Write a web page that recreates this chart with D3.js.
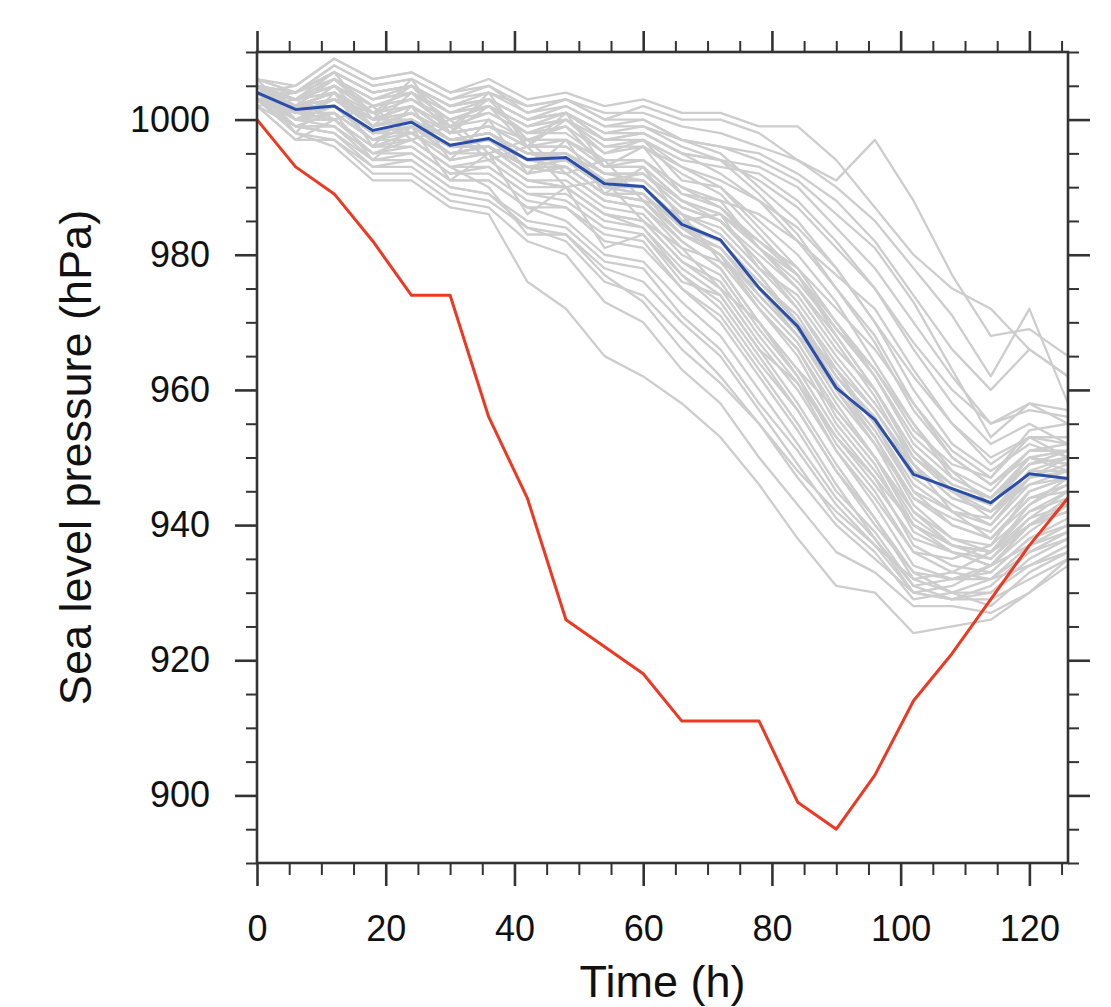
<!DOCTYPE html>
<html>
<head>
<meta charset="utf-8">
<script src="https://cdn.jsdelivr.net/npm/d3@7"></script>
<style>
  body { margin: 0; background: #fff; }
  text { font-family: "Liberation Sans", Arial, Helvetica, sans-serif; fill: #111; }
</style>
</head>
<body>
<div id="chart"></div>
<script>
// forecast hours, every 6 h
var hours = [0, 6, 12, 18, 24, 30, 36, 42, 48, 54, 60, 66, 72, 78, 84, 90, 96, 102, 108, 114, 120, 126];

// observed (best track) minimum pressure
var observed = [1000, 993, 989, 982, 974, 974, 956, 944, 926, 922, 918, 911, 911, 911, 899, 895, 903, 914, 921, 929, 937, 944];

// ensemble mean
var ensMean = [1004, 1001.5, 1002, 998.4, 999.6, 996.2, 997.2, 994.1, 994.4, 990.5, 990.1, 984.5, 982.2, 975.1, 969.4, 960.3, 955.6, 947.5, 945.4, 943.3, 947.6, 946.9];

// ensemble members
var members = [
  [1005,1004,1008,1005,1006,1003,1005,1001,1003,1000,1002,1000,1000,998,994,991,997,988,977,968,969,965],
  [1004,1005,1009,1006,1007,1004,1006,1003,1004,1002,1003,1001,1001,999,999,994,987,980,975,972,966,962],
  [1005,1003,1007,1004,1005,1002,1004,1002,1003,1001,1001,999,998,996,994,990,985,978,971,962,972,958],
  [1004,1004,1006,1003,1005,1001,1003,1000,1002,999,1000,997,996,995,992,988,982,974,966,960,966,962],
  [1003,1002,1006,1002,1004,1000,1002,999,1001,997,998,995,994,993,990,984,978,970,962,955,958,955],
  [1005,1003,1005,1002,1003,1000,1002,998,1000,996,997,994,993,992,988,982,975,966,958,952,955,952],
  [1004,1002,1004,1001,1003,999,1001,998,999,995,996,993,991,988,984,978,970,962,955,950,953,950],
  [1006,1004,1007,1004,1005,1002,1003,1000,1001,998,998,995,992,988,982,975,968,958,950,946,950,948],
  [1004,1001,1003,999,1000,997,998,995,995,991,991,986,983,977,970,962,955,946,942,940,946,947],
  [1003,1002,1002,998,1000,996,997,994,994,990,990,984,981,974,968,959,952,944,940,938,944,946],
  [1005,1003,1004,1000,1001,998,999,996,996,992,992,987,985,979,973,965,958,950,946,944,949,950],
  [1004,1000,1001,997,999,995,996,993,993,989,989,983,980,972,965,955,948,940,936,934,940,944],
  [1003,1001,1002,998,999,996,996,993,992,988,987,982,978,970,962,953,946,938,936,935,941,943],
  [1005,1002,1003,999,1001,997,998,995,995,992,991,986,984,978,972,964,957,948,945,943,950,951],
  [1004,1001,1000,996,998,994,995,991,991,987,986,980,977,969,962,952,945,936,935,937,942,944],
  [1003,1000,1002,998,998,995,996,992,993,989,988,983,981,975,969,961,953,943,938,936,943,946],
  [1004,1002,1003,1000,1000,997,998,995,994,991,990,985,982,976,971,962,956,947,943,940,947,948],
  [1005,1003,1004,1001,1002,998,999,997,997,993,993,988,986,981,976,969,962,953,948,945,951,952],
  [1004,1001,1001,997,999,995,996,993,992,988,987,981,979,972,966,957,950,941,937,935,940,942],
  [1003,1002,1004,999,1001,997,998,994,995,991,991,986,983,977,970,961,954,945,942,941,948,950],
  [1004,1000,1002,997,999,996,996,992,993,989,989,984,982,976,970,963,957,949,944,942,946,948],
  [1005,1002,1002,998,1000,996,997,994,994,990,989,983,980,973,967,958,950,940,937,936,942,945],
  [1004,1001,1003,999,1001,997,997,994,993,989,988,982,978,970,963,954,947,937,934,933,938,941],
  [1003,1000,1001,997,998,994,995,991,990,986,985,979,975,967,960,951,944,936,933,932,936,939],
  [1004,1002,1003,999,1000,997,998,995,995,991,992,987,985,980,975,968,960,951,946,944,949,951],
  [1005,1001,1002,998,999,996,997,993,994,990,989,984,980,972,966,956,949,939,936,934,939,943],
  [1004,1003,1005,1001,1002,999,1000,997,997,994,994,989,987,982,977,970,963,954,949,947,953,953],
  [1003,1001,1002,998,1000,996,996,993,993,989,988,983,980,974,968,960,952,942,938,937,945,947],
  [1004,1000,1000,996,997,993,994,990,990,986,985,979,976,968,961,951,943,934,932,932,937,940],
  [1005,1002,1004,1000,1001,997,998,995,994,990,990,985,982,975,969,960,953,944,941,939,945,947],
  [1003,999,999,995,996,992,993,989,989,985,984,978,974,966,958,949,941,932,930,930,935,938],
  [1004,1000,1000,996,996,992,992,988,987,983,982,975,971,963,955,946,938,930,929,931,936,938],
  [1003,999,998,994,995,991,991,987,987,982,981,975,970,962,954,945,939,931,932,933,938,940],
  [1004,1001,1001,997,997,993,993,989,988,984,983,977,973,965,957,948,941,933,930,928,933,936],
  [1002,999,998,993,994,990,989,985,984,979,978,971,966,958,951,943,937,930,931,934,937,939],
  [1003,998,997,993,993,989,988,984,983,978,976,970,965,957,949,941,936,929,930,932,934,936],
  [1004,1000,999,994,994,990,989,984,982,976,974,968,962,955,947,940,935,930,929,929,932,935],
  [1003,998,996,991,991,987,986,976,972,965,962,958,953,946,938,931,930,924,925,926,930,935],
  [1002,997,997,992,992,988,987,982,980,973,970,963,958,950,943,936,933,928,928,927,930,934],
  [1004,999,999,995,995,991,991,987,985,980,979,973,968,960,952,944,938,931,929,930,934,937],
  [1006,1005,1009,1006,1007,1004,1005,1002,1003,1000,1000,997,995,990,985,978,970,960,952,948,952,950],
  [1005,1004,1008,1005,1006,1003,1004,1001,1002,999,999,996,994,989,983,975,967,957,950,946,951,951],
  [1006,1004,1007,1004,1005,1002,1003,1000,1001,997,997,993,990,984,978,970,962,952,947,944,950,949],
  [1005,1003,1006,1003,1004,1001,1002,999,1000,996,996,992,989,983,977,968,960,950,945,942,948,948],
  [1004,1003,1005,1002,1003,1000,1001,998,998,994,994,990,987,981,975,967,959,949,944,942,947,949],
  [1003,1001,1003,1000,1002,998,999,996,997,993,993,988,985,979,972,963,955,945,940,938,944,945],
  [1004,1002,1002,998,999,995,995,991,990,986,984,977,972,964,957,948,940,933,932,934,940,943],
  [1005,1002,1004,1000,1002,998,999,996,996,992,992,988,986,982,978,972,966,958,951,947,954,955],
  [1004,1003,1006,1003,1004,1001,1002,999,1000,997,998,995,994,991,987,981,975,967,960,955,957,956],
  [1005,1004,1007,1004,1005,1002,1003,1000,1001,998,999,997,996,994,991,986,981,973,963,953,958,957],
  [1006,1000,1003,1001,998,1000,995,997,992,994,988,986,979,975,968,963,955,949,942,938,943,947],
  [1002,1003,1000,1002,997,999,994,996,990,991,985,981,975,970,963,957,950,942,937,936,941,945],
  [1005,998,1004,996,1002,994,1000,992,997,989,993,985,986,978,974,966,960,951,945,941,947,950],
  [1003,1004,1007,1000,1006,998,1004,996,1001,993,996,989,988,981,977,969,963,955,948,943,949,951],
  [1004,999,1001,994,999,991,995,986,990,981,983,976,974,966,961,953,947,940,937,936,940,943],
  [1002,997,1000,995,997,993,990,983,983,977,973,966,961,955,948,942,937,932,933,936,940,942],
  [1005,1002,1006,1001,1005,999,1003,997,999,993,994,990,988,986,982,977,972,963,955,949,953,952],
  [1004,1001,1005,999,1004,998,1002,996,1000,995,997,991,990,985,980,973,964,955,947,944,950,949]
];

var xMajor = [0, 20, 40, 60, 80, 100, 120];
var xMinor = [5, 10, 15, 25, 30, 35, 45, 50, 55, 65, 70, 75, 85, 90, 95, 105, 110, 115, 125];
var yMajor = [900, 920, 940, 960, 980, 1000];
var yMinor = [890, 895, 905, 910, 915, 925, 930, 935, 945, 950, 955, 965, 970, 975, 985, 990, 995, 1005, 1010];

var W = 1111, H = 1007;
var margin = { left: 257, top: 52, right: 1111 - 1068, bottom: 1007 - 863 };
var w = W - margin.left - margin.right,
  h = H - margin.top - margin.bottom;

var svg = d3
  .select("#chart")
  .append("svg")
  .attr("width", W)
  .attr("height", H);

var g = svg
  .append("g")
  .attr("transform", "translate(" + margin.left + "," + margin.top + ")");

var x = d3.scaleLinear().domain([0, 126]).range([0, w]);
var y = d3.scaleLinear().domain([890, 1010]).range([h, 0]);

g.append("clipPath")
  .attr("id", "clip")
  .append("rect")
  .attr("width", w)
  .attr("height", h);

var line = d3
  .line()
  .x(function(d, i) {
    return x(hours[i]);
  })
  .y(function(d) {
    return y(d);
  });

var plot = g.append("g").attr("clip-path", "url(#clip)");

plot
  .selectAll(".member")
  .data(members)
  .enter()
  .append("path")
  .attr("class", "member")
  .attr("d", line)
  .attr("fill", "none")
  .attr("stroke", "#cdcdcd")
  .attr("stroke-width", 2.3)
  .attr("stroke-linejoin", "round");

plot
  .append("path")
  .datum(ensMean)
  .attr("d", line)
  .attr("fill", "none")
  .attr("stroke", "#2b4ea8")
  .attr("stroke-width", 3)
  .attr("stroke-linejoin", "round");

plot
  .append("path")
  .datum(observed)
  .attr("d", line)
  .attr("fill", "none")
  .attr("stroke", "#ee3822")
  .attr("stroke-width", 3)
  .attr("stroke-linejoin", "round");

// axes: major + minor ticks on all four sides, pointing out
function styleAxis(sel, width) {
  sel.select(".domain").remove();
  sel.selectAll(".tick line").attr("stroke", "#333").attr("stroke-width", width);
}

g.append("g")
  .attr("transform", "translate(0," + h + ")")
  .call(d3.axisBottom(x).tickValues(xMinor).tickSize(12).tickFormat(""))
  .call(styleAxis, 2);
g.append("g")
  .attr("transform", "translate(0," + h + ")")
  .call(d3.axisBottom(x).tickValues(xMajor).tickSize(23).tickPadding(29).tickFormat(d3.format("d")))
  .call(styleAxis, 2.6)
  .selectAll("text")
  .style("font-size", "36px");

g.append("g")
  .call(d3.axisTop(x).tickValues(xMinor).tickSize(11).tickFormat(""))
  .call(styleAxis, 2);
g.append("g")
  .call(d3.axisTop(x).tickValues(xMajor).tickSize(21).tickFormat(""))
  .call(styleAxis, 2.6);

g.append("g")
  .call(d3.axisLeft(y).tickValues(yMinor).tickSize(11).tickFormat(""))
  .call(styleAxis, 2);
g.append("g")
  .call(d3.axisLeft(y).tickValues(yMajor).tickSize(22).tickPadding(25).tickFormat(d3.format("d")))
  .call(styleAxis, 2.6)
  .selectAll("text")
  .style("font-size", "36px");

g.append("g")
  .attr("transform", "translate(" + w + ",0)")
  .call(d3.axisRight(y).tickValues(yMinor).tickSize(11).tickFormat(""))
  .call(styleAxis, 2);
g.append("g")
  .attr("transform", "translate(" + w + ",0)")
  .call(d3.axisRight(y).tickValues(yMajor).tickSize(22).tickFormat(""))
  .call(styleAxis, 2.6);

g.append("rect")
  .attr("width", w)
  .attr("height", h)
  .attr("fill", "none")
  .attr("stroke", "#333")
  .attr("stroke-width", 2.6);

// axis titles
svg
  .append("text")
  .attr("x", margin.left + w / 2)
  .attr("y", 997)
  .attr("text-anchor", "middle")
  .style("font-size", "45px")
  .text("Time (h)");

svg
  .append("text")
  .attr("transform", "translate(91," + (margin.top + h / 2) + ") rotate(-90)")
  .attr("text-anchor", "middle")
  .style("font-size", "45px")
  .text("Sea level pressure (hPa)");
</script>
</body>
</html>
